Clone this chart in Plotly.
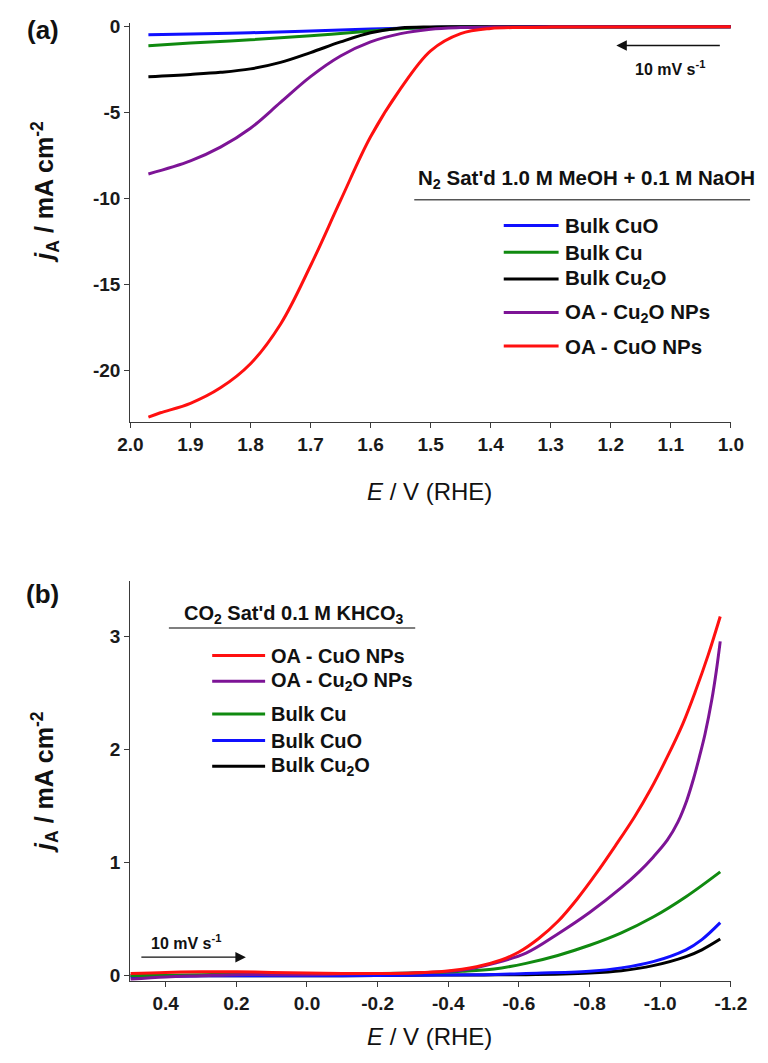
import plotly.graph_objects as go

W, H = 768, 1063
FONT = "Liberation Sans"

# ---------------- Panel (a): N2 sat'd 1.0 M MeOH + 0.1 M NaOH ----------------
a_names = ["Bulk CuO", "Bulk Cu", "Bulk Cu<sub>2</sub>O", "OA - Cu<sub>2</sub>O NPs", "OA - CuO NPs"]
a_colors = ["#1010ff", "#108a10", "#000000", "#7d1496", "#ff1010"]

a_bulk_cuo_E = [1.97, 1.9, 1.8, 1.7, 1.6, 1.5, 1.45, 1.0]
a_bulk_cuo_j = [-0.47, -0.42, -0.35, -0.25, -0.13, -0.04, -0.01, 0.0]

a_bulk_cu_E = [1.97, 1.9, 1.8, 1.7, 1.6, 1.55, 1.5, 1.45, 1.0]
a_bulk_cu_j = [-1.1, -0.95, -0.76, -0.52, -0.25, -0.12, -0.04, -0.01, 0.0]

a_bulk_cu2o_E = [1.97, 1.9, 1.85, 1.8, 1.75, 1.7, 1.65, 1.6, 1.55, 1.5, 1.45, 1.0]
a_bulk_cu2o_j = [-2.9, -2.77, -2.65, -2.45, -2.07, -1.5, -0.88, -0.35, -0.07, -0.01, 0.0, 0.0]

a_oa_cu2o_E = [1.97, 1.9, 1.85, 1.8, 1.75, 1.7, 1.65, 1.6, 1.55, 1.5, 1.45, 1.4, 1.2, 1.0]
a_oa_cu2o_j = [-8.56, -7.8, -7.0, -5.9, -4.4, -2.9, -1.7, -0.88, -0.4, -0.14, -0.05, -0.02, 0.0, 0.0]

a_oa_cuo_E = [1.97, 1.95, 1.9, 1.85, 1.8, 1.75, 1.7, 1.65, 1.6, 1.55, 1.5, 1.45,
              1.4, 1.35, 1.3, 1.2, 1.0]
a_oa_cuo_j = [-22.7, -22.45, -21.9, -21.0, -19.6, -17.3, -13.9, -10.1, -6.4, -3.6, -1.4, -0.4,
              -0.1, -0.04, -0.02, -0.01, 0.0]

a_series = [
    (a_bulk_cuo_E, a_bulk_cuo_j),
    (a_bulk_cu_E, a_bulk_cu_j),
    (a_bulk_cu2o_E, a_bulk_cu2o_j),
    (a_oa_cu2o_E, a_oa_cu2o_j),
    (a_oa_cuo_E, a_oa_cuo_j),
]

a_xticks = [2.0, 1.9, 1.8, 1.7, 1.6, 1.5, 1.4, 1.3, 1.2, 1.1, 1.0]
a_xticklabels = ["2.0", "1.9", "1.8", "1.7", "1.6", "1.5", "1.4", "1.3", "1.2", "1.1", "1.0"]
a_yticks = [-20, -15, -10, -5, 0]
a_yticklabels = ["-20", "-15", "-10", "-5", "0"]

# ---------------- Panel (b): CO2 sat'd 0.1 M KHCO3 ----------------
b_names = ["OA - CuO NPs", "OA - Cu<sub>2</sub>O NPs", "Bulk Cu", "Bulk CuO", "Bulk Cu<sub>2</sub>O"]
b_colors = ["#ff1010", "#7d1496", "#108a10", "#1010ff", "#000000"]

b_oa_cuo_E = [0.5, 0.4, 0.3, 0.2, 0.1, 0.0, -0.1, -0.2, -0.3, -0.39, -0.48, -0.55, -0.6,
              -0.656, -0.71, -0.765, -0.82, -0.873, -0.928, -0.973, -1.019, -1.064, -1.10,
              -1.136, -1.17]
b_oa_cuo_j = [0.02, 0.03, 0.035, 0.035, 0.03, 0.025, 0.02, 0.02, 0.025, 0.04, 0.08, 0.14, 0.21,
              0.33, 0.48, 0.68, 0.91, 1.15, 1.41, 1.65, 1.93, 2.23, 2.52, 2.84, 3.18]

b_oa_cu2o_E = [0.5, 0.4, 0.3, 0.2, 0.1, 0.0, -0.1, -0.2, -0.3, -0.44, -0.53, -0.62, -0.71,
               -0.80, -0.89, -0.94, -0.98, -1.02, -1.05, -1.075, -1.095, -1.112, -1.127,
               -1.146, -1.159, -1.17]
b_oa_cu2o_j = [-0.03, -0.01, 0.0, 0.01, 0.01, 0.01, 0.015, 0.02, 0.025, 0.05, 0.11, 0.20, 0.37,
               0.56, 0.78, 0.92, 1.05, 1.20, 1.36, 1.55, 1.75, 1.95, 2.14,
               2.44, 2.70, 2.96]

b_bulk_cu_E = [0.5, 0.3, 0.1, -0.1, -0.3, -0.44, -0.53, -0.62, -0.71, -0.80, -0.89, -0.98, -1.073, -1.17]
b_bulk_cu_j = [0.0, 0.01, 0.02, 0.02, 0.025, 0.04, 0.06, 0.11, 0.18, 0.27, 0.38, 0.52, 0.70, 0.92]

b_bulk_cuo_E = [0.5, 0.3, 0.1, -0.1, -0.3, -0.5, -0.62, -0.80, -0.89, -0.98, -1.073, -1.118, -1.17]
b_bulk_cuo_j = [-0.01, 0.0, 0.0, 0.0, 0.005, 0.01, 0.02, 0.04, 0.07, 0.125, 0.23, 0.32, 0.47]

b_bulk_cu2o_E = [0.5, 0.3, 0.1, -0.1, -0.3, -0.5, -0.62, -0.80, -0.89, -0.98, -1.073, -1.118, -1.17]
b_bulk_cu2o_j = [0.0, 0.0, 0.0, 0.0, 0.005, 0.008, 0.01, 0.025, 0.045, 0.09, 0.17, 0.23, 0.325]

b_series = [
    (b_oa_cuo_E, b_oa_cuo_j),
    (b_oa_cu2o_E, b_oa_cu2o_j),
    (b_bulk_cu_E, b_bulk_cu_j),
    (b_bulk_cuo_E, b_bulk_cuo_j),
    (b_bulk_cu2o_E, b_bulk_cu2o_j),
]

b_xticks = [0.4, 0.2, 0.0, -0.2, -0.4, -0.6, -0.8, -1.0, -1.2]
b_xticklabels = ["0.4", "0.2", "0.0", "-0.2", "-0.4", "-0.6", "-0.8", "-1.0", "-1.2"]
b_yticks = [0, 1, 2, 3]
b_yticklabels = ["0", "1", "2", "3"]


def px(x):
    return x / W


def py(y):
    return 1 - y / H


fig = go.Figure()

# draw in an order that leaves the OA-CuO trace on top
for (E, j), c in zip(a_series, a_colors):
    fig.add_trace(go.Scatter(x=E, y=j, mode="lines", xaxis="x", yaxis="y",
                             line=dict(color=c, width=3, shape="spline", smoothing=1.0),
                             showlegend=False, hoverinfo="skip"))
for (E, j), c in reversed(list(zip(b_series, b_colors))):
    fig.add_trace(go.Scatter(x=E, y=j, mode="lines", xaxis="x2", yaxis="y2",
                             line=dict(color=c, width=3, shape="spline", smoothing=1.0),
                             showlegend=False, hoverinfo="skip"))

tickfont = dict(family=FONT, size=19, color="#1a1a1a", weight="bold")
axis_common = dict(showline=True, linecolor="#3a3a3a", linewidth=1.3, ticks="outside",
                   ticklen=5, tickwidth=1.3, tickcolor="#3a3a3a", showgrid=False,
                   zeroline=False, tickfont=tickfont, fixedrange=True)

fig.update_layout(
    width=W, height=H, margin=dict(l=0, r=0, t=0, b=0),
    paper_bgcolor="white", plot_bgcolor="white", showlegend=False,
    xaxis=dict(domain=[px(122), px(746)], range=[2.0, 1.0], anchor="y",
               tickvals=a_xticks, ticktext=a_xticklabels, **axis_common),
    yaxis=dict(domain=[py(421), py(17)], range=[-23.0, 0.23], anchor="x",
               tickvals=a_yticks, ticktext=a_yticklabels, **axis_common),
    xaxis2=dict(domain=[px(122), px(746)], range=[0.5, -1.2], anchor="y2",
                tickvals=b_xticks, ticktext=b_xticklabels, **axis_common),
    yaxis2=dict(domain=[py(986), py(582)], range=[-0.045, 3.49], anchor="x2",
                tickvals=b_yticks, ticktext=b_yticklabels, **axis_common),
)

ann = []
shapes = []


def text(x, y, s, size, bold=True, xanchor="center", angle=0):
    ann.append(dict(x=px(x), y=py(y), xref="paper", yref="paper", text=s, showarrow=False,
                    xanchor=xanchor, yanchor="middle", textangle=angle,
                    font=dict(family=FONT, size=size, color="#111111",
                              weight="bold" if bold else "normal")))


# panel labels
text(31, 24, "(a)", 26)
text(31, 595, "(b)", 26)

# axis titles
ytitle = "<i>j</i><sub>A</sub> / mA cm<sup>-2</sup>"
xtitle = "<i>E</i> / V (RHE)"
text(33, 188, ytitle, 25, angle=-90)
text(33, 785, ytitle, 25, angle=-90)
text(433, 491, xtitle, 24, bold=False)
text(433, 1042, xtitle, 24, bold=False)

# scan-rate arrows
for head, tail, lab in [((627, 40), (732, 40), (683, 63)), ((242, 962), (136, 962), (180, 947))]:
    ann.append(dict(x=px(head[0]), y=py(head[1]), xref="paper", yref="paper",
                    ax=tail[0] - head[0], ay=tail[1] - head[1], axref="pixel", ayref="pixel",
                    text="", showarrow=True, arrowhead=2, arrowsize=1.5, arrowwidth=1.4,
                    arrowcolor="#111111"))
    text(lab[0], lab[1], "10 mV s<sup>-1</sup>", 16)

# legend (a)
text(596, 175, "N<sub>2</sub> Sat'd 1.0 M MeOH + 0.1 M NaOH", 20.5)
shapes.append(dict(type="line", xref="paper", yref="paper", x0=px(417), x1=px(766),
                   y0=py(196), y1=py(196), line=dict(color="#555555", width=1.5)))
for name, c, row in zip(a_names, a_colors, [222, 249, 276, 310, 344]):
    shapes.append(dict(type="line", xref="paper", yref="paper", x0=px(510), x1=px(567),
                       y0=py(row), y1=py(row), line=dict(color=c, width=3)))
    text(572, row, name, 20.5, xanchor="left")

# legend (b)
text(291, 615, "CO<sub>2</sub> Sat'd 0.1 M KHCO<sub>3</sub>", 20)
shapes.append(dict(type="line", xref="paper", yref="paper", x0=px(162), x1=px(418),
                   y0=py(629), y1=py(629), line=dict(color="#555555", width=1.5)))
for name, c, row in zip(b_names, b_colors, [657, 683, 716, 743, 769]):
    shapes.append(dict(type="line", xref="paper", yref="paper", x0=px(207), x1=px(262),
                       y0=py(row), y1=py(row), line=dict(color=c, width=3)))
    text(266, row, name, 20, xanchor="left")

fig.update_layout(annotations=ann, shapes=shapes)
fig.write_html("out.html")
